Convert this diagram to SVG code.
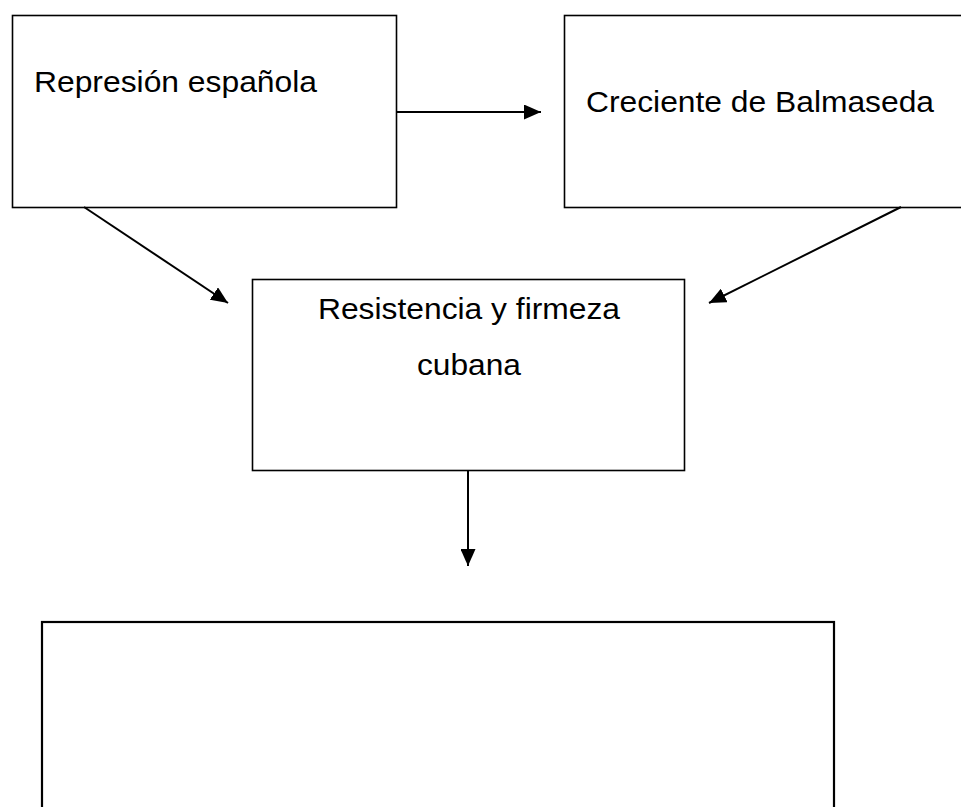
<svg xmlns="http://www.w3.org/2000/svg" width="961" height="807" viewBox="0 0 961 807">
  <style>
    .box { fill: #ffffff; stroke: #000000; stroke-width: 1.6; }
    .box-thick { fill: #ffffff; stroke: #000000; stroke-width: 2.2; }
    .label { font-family: "Liberation Sans", Arial, sans-serif; font-size: 30px; fill: #000000; }
    .conn { stroke: #000000; stroke-width: 2; fill: none; marker-end: url(#arrow); }
  </style>
  <defs>
    <marker id="arrow" markerUnits="userSpaceOnUse" markerWidth="17" markerHeight="15" refX="17" refY="7.5" orient="auto">
      <path d="M0,0 L17,7.5 L0,15 z" fill="#000000"/>
    </marker>
  </defs>
  <rect width="961" height="807" fill="#ffffff"/>

  <g id="node-represion">
    <rect class="box" x="12.5" y="15.5" width="384" height="192"/>
    <text class="label" x="34" y="92" textLength="283" lengthAdjust="spacingAndGlyphs">Represión española</text>
  </g>

  <g id="node-creciente">
    <rect class="box" x="564.5" y="15.5" width="420" height="192"/>
    <text class="label" x="586" y="112" textLength="348" lengthAdjust="spacingAndGlyphs">Creciente de Balmaseda</text>
  </g>

  <g id="node-resistencia">
    <rect class="box" x="252.5" y="279.5" width="432" height="191"/>
    <text class="label" x="318" y="319" textLength="302" lengthAdjust="spacingAndGlyphs">Resistencia y firmeza</text>
    <text class="label" x="417" y="375" textLength="104" lengthAdjust="spacingAndGlyphs">cubana</text>
  </g>

  <g id="node-result">
    <rect class="box-thick" x="42" y="622" width="792" height="200"/>
  </g>

  <g id="connectors">
    <line class="conn" x1="397" y1="112" x2="541" y2="112"/>
    <line class="conn" x1="84" y1="207" x2="228" y2="303"/>
    <line class="conn" x1="901" y1="207" x2="709" y2="303"/>
    <line class="conn" x1="468" y1="471" x2="468" y2="566"/>
  </g>
</svg>
